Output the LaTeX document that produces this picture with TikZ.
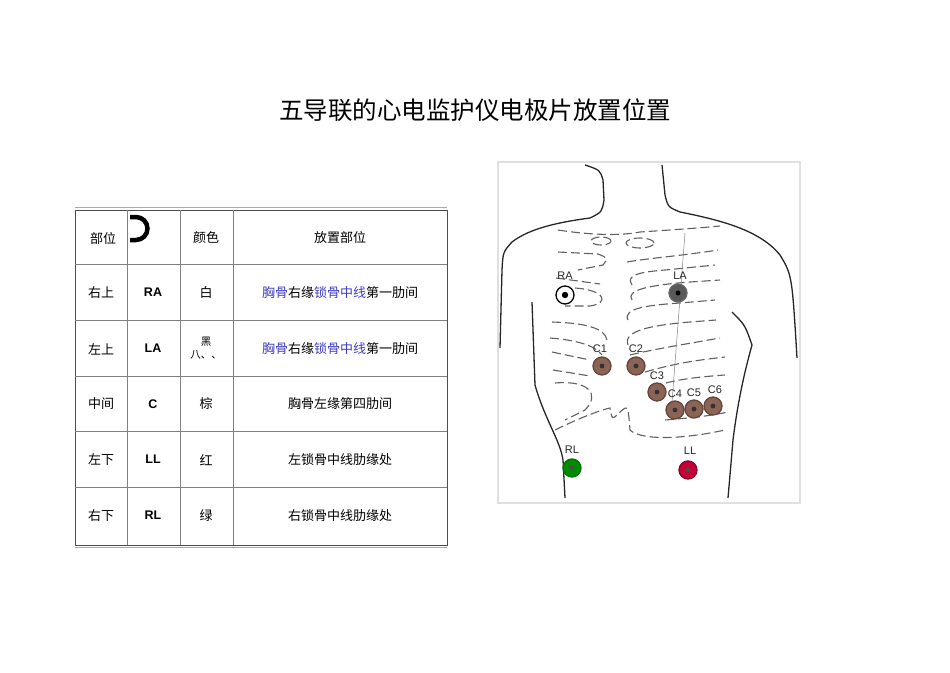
\documentclass[tikz,border=0pt]{standalone}
\usepackage{fontspec}
\setmainfont{Noto Sans CJK SC}
\newfontfamily\lat{Liberation Sans}
\definecolor{lnk}{RGB}{60,60,200}
\definecolor{brn}{RGB}{140,100,85}
\definecolor{gry}{RGB}{170,170,170}
\begin{document}
\begin{tikzpicture}[x=1pt,y=-1pt,
  cell/.style={font=\fontsize{13}{15}\selectfont, inner sep=0pt},
  abb/.style={font=\lat\bfseries\fontsize{12.5}{14}\selectfont, inner sep=0pt},
  rib/.style={dashed, dash pattern=on 9pt off 4pt, line width=1.1pt, gray!75!black},
  body/.style={line width=1.3pt, black!85},
  elec/.style={circle, minimum size=18pt, inner sep=0pt, line width=1.3pt},
  lab/.style={font=\lat\fontsize{11}{12}\selectfont, inner sep=0pt, gray!30!black}]
\useasboundingbox (0,0) rectangle (950,672);
\node (title) at (475,110) {\fontsize{24.5}{28}\selectfont 五导联的心电监护仪电极片放置位置};
% table
\draw[gry, line width=1pt] (75,207) -- (447,207);
\draw[gry, line width=1pt] (75,547) -- (447,547);
\draw[black!70, line width=0.6pt] (75,210) rectangle (447,545);
\foreach \y in {264,320,376,431,487} \draw[black!50, line width=0.6pt] (75,\y) -- (447,\y);
\foreach \x in {127,180,233} \draw[black!50, line width=0.6pt] (\x,210) -- (\x,545);
\draw[line width=4.5pt] (130,217) -- (136,217) arc[start angle=90, end angle=-90, radius=11.5pt] -- (130,240);
\node[cell] (h1) at (103,238) {部位};
\node[cell] (h3) at (206,238) {颜色};
\node[cell] (h4) at (340,238) {放置部位};
\node[cell] (r1a) at (101,293) {右上}; \node[abb] (r1b) at (153,292) {RA};
\node[cell] (r1c) at (206,293) {白};
\node[cell] (r1d) at (340,293) {\textcolor{lnk}{胸骨}右缘\textcolor{lnk}{锁骨中线}第一肋间};
\node[cell] (r2a) at (101,349) {左上}; \node[abb] (r2b) at (153,348) {LA};
\node[cell, font=\fontsize{10.5}{13}\selectfont, align=center] (r2c) at (206,348) {黑\\八、、};
\node[cell] (r2d) at (340,349) {\textcolor{lnk}{胸骨}右缘\textcolor{lnk}{锁骨中线}第一肋间};
\node[cell] (r3a) at (101,404) {中间}; \node[abb] (r3b) at (153,404) {C};
\node[cell] (r3c) at (206,404) {棕}; \node[cell] (r3d) at (340,404) {胸骨左缘第四肋间};
\node[cell] (r4a) at (101,460) {左下}; \node[abb] (r4b) at (153,459) {LL};
\node[cell] (r4c) at (206,460) {红}; \node[cell] (r4d) at (340,460) {左锁骨中线肋缘处};
\node[cell] (r5a) at (101,516) {右下}; \node[abb] (r5b) at (153,515) {RL};
\node[cell] (r5c) at (206,516) {绿}; \node[cell] (r5d) at (340,516) {右锁骨中线肋缘处};
% image frame
\draw[black!12, line width=1.5pt] (498,162) rectangle (800,503);
% body
\draw[body] (585,165) .. controls (600,170) .. (603,180) -- (604,200) .. controls (602,212) .. (590,218) .. controls (560,222) and (530,228) .. (512,242) .. controls (503,252) .. (502,270) -- (500,348);
\draw[body] (662,165) -- (665,195) .. controls (668,207) .. (680,212) .. controls (720,220) and (760,230) .. (780,255) .. controls (792,275) .. (797,358);
\draw[body] (532,302) -- (535,385) .. controls (545,420) and (560,440) .. (563,460) -- (565,498);
\draw[body] (732,312) .. controls (745,325) .. (752,345) .. controls (745,370) and (738,400) .. (733,440) -- (728,498);
% ribs
\draw[rib] (558,230) .. controls (590,235) and (620,236) .. (640,232) .. controls (670,230) and (700,228) .. (720,226);
\draw[rib] (601,241) ellipse[x radius=10pt, y radius=4pt];
\draw[rib] (640,243) ellipse[x radius=14pt, y radius=5pt];
\draw[rib] (558,252) -- (598,254) .. controls (608,258) .. (603,265) -- (578,270);
\draw[rib] (556,278) -- (600,284);
\draw[rib] (575,288) .. controls (605,290) and (610,303) .. (590,306) -- (565,306);
\draw[rib] (552,322) .. controls (585,323) and (605,328) .. (607,340);
\draw[rib] (550,338) .. controls (575,340) and (595,345) .. (602,355);
\draw[rib] (552,352) -- (590,360);
\draw[rib] (553,370) -- (590,376);
\draw[rib] (555,383) .. controls (590,380) and (600,395) .. (585,410) -- (565,420);
\draw[rib] (555,430) .. controls (575,420) and (600,410) .. (610,408) .. controls (612,420) .. (620,412) .. controls (628,405) .. (630,430) .. controls (640,440) and (680,440) .. (725,430);
\draw[rib] (627,262) .. controls (650,258) and (680,256) .. (718,250);
\draw[rib] (632,285) .. controls (625,275) and (640,272) .. (665,270) -- (715,265);
\draw[rib] (632,300) .. controls (625,290) and (650,285) .. (690,282) -- (720,280);
\draw[rib] (628,320) .. controls (622,308) and (650,305) .. (680,303) -- (715,300);
\draw[rib] (628,345) .. controls (622,330) and (655,325) .. (690,322) -- (716,320);
\draw[rib] (630,355) .. controls (650,350) and (680,345) .. (720,338);
\draw[rib] (645,372) .. controls (680,362) and (700,360) .. (725,357);
\draw[rib] (650,398) .. controls (640,385) and (680,378) .. (725,375);
\draw[rib] (665,420) .. controls (690,418) and (710,416) .. (728,412);
\draw[gray, line width=0.5pt] (685,233) -- (672,402);
% electrodes
\node[elec, draw=black, fill=white] (ra) at (565,295) {};
\fill (ra) circle (3.2pt);
\node[elec, draw=black!60, fill=black!65] (la) at (678,293) {}; \fill (la) circle (2.5pt);
\foreach \n/\p in {c1/{(602,366)},c2/{(636,366)},c3/{(657,392)},c4/{(675,410)},c5/{(694,409)},c6/{(713,406)}}
  { \node[elec, draw=brn!70!black, fill=brn] (\n) at \p {}; \fill[black!80] (\n) circle (2.4pt); }
\node[elec, draw=green!45!black, fill=green!55!black] (rl) at (572,468) {}; \fill[black!70] (rl) circle (2.4pt);
\node[elec, draw=purple!70!black, fill=purple!85!red] (ll) at (688,470) {}; \fill[black!70] (ll) circle (2.4pt);
\node[lab] (lra) at (565,276) {RA};
\node[lab] (lla) at (680,276) {LA};
\node[lab] (lc1) at (600,349) {C1};
\node[lab] (lc2) at (636,349) {C2};
\node[lab] (lc3) at (657,376) {C3};
\node[lab] (lc4) at (675,394) {C4};
\node[lab] (lc5) at (694,393) {C5};
\node[lab] (lc6) at (715,390) {C6};
\node[lab] (lrl) at (572,450) {RL};
\node[lab] (lll) at (690,451) {LL};
\end{tikzpicture}
\end{document}
